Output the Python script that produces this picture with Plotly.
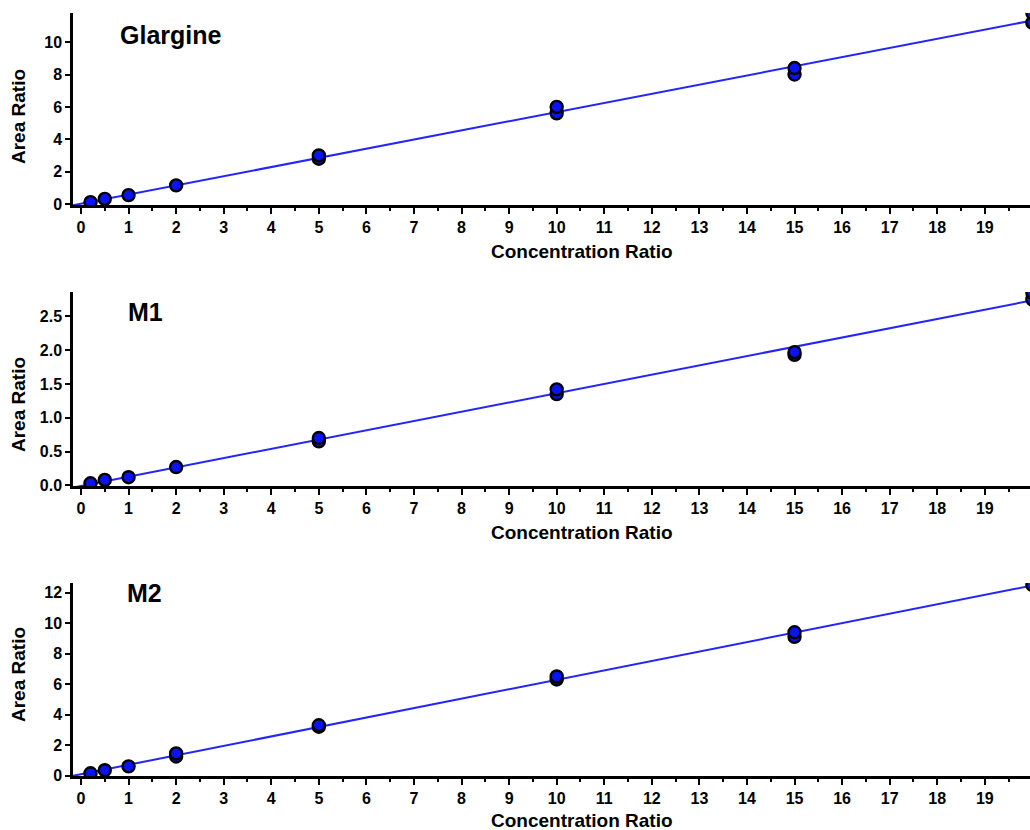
import numpy as np
import plotly.graph_objects as go

conc = [0.2, 0.5, 1, 2, 5, 5, 10, 10, 15, 15, 20, 20]

glargine = [0.12, 0.32, 0.55, 1.15, 2.8, 3.0, 5.6, 6.0, 8.0, 8.4, 11.2, 11.8]
m1 = [0.03, 0.08, 0.12, 0.27, 0.65, 0.70, 1.35, 1.42, 1.93, 1.97, 2.75, 2.85]
m2 = [0.15, 0.35, 0.6, 1.25, 1.45, 3.2, 3.3, 6.3, 6.5, 9.1, 9.4, 12.5]
m2_x = [0.2, 0.5, 1, 2, 2, 5, 5, 10, 10, 15, 15, 20]

panels = [
    ("Glargine", conc, glargine, [-0.06, 11.8], [0, 2, 4, 6, 8, 10], ["0", "2", "4", "6", "8", "10"]),
    ("M1", conc, m1, [-0.01, 2.86], [0, 0.5, 1.0, 1.5, 2.0, 2.5], ["0.0", "0.5", "1.0", "1.5", "2.0", "2.5"]),
    ("M2", m2_x, m2, [-0.03, 12.63], [0, 2, 4, 6, 8, 10, 12], ["0", "2", "4", "6", "8", "10", "12"]),
]

x_ticks = list(range(0, 20))
x_range = [-0.168, 19.95]
x_title = "Concentration Ratio"
y_title = "Area Ratio"

# pixel layout of each plot area and its texts
W, H = 1030, 830
px_rows = [(13, 205), (292, 486), (583, 776)]
label_pos = [(118, 35), (126, 312), (125, 593)]
xtitle_y = [251, 532, 820]
ytitle_y = [117, 405, 675]
x_left = 73

font_family = "Liberation Sans, Arial, sans-serif"
fig = go.Figure()

for i, (name, xs, ys, yr, yt, ytl) in enumerate(panels):
    k = "" if i == 0 else str(i + 1)
    xa, ya = "x" + k, "y" + k
    slope, intercept = np.polyfit(xs, ys, 1)
    lx = np.array([x_range[0], 20.5])
    fig.add_trace(go.Scatter(x=lx, y=slope * lx + intercept, mode="lines",
                             line=dict(color="#2424ff", width=2), xaxis=xa, yaxis=ya,
                             showlegend=False, hoverinfo="skip"))
    fig.add_trace(go.Scatter(x=xs, y=ys, mode="markers",
                             marker=dict(size=12, color="#0a14f0", line=dict(color="black", width=2.4)),
                             xaxis=xa, yaxis=ya, showlegend=False))
    top, bot = px_rows[i]
    dom_y = [1 - bot / H, 1 - top / H]
    axis_font = dict(family=font_family, size=16, color="black", weight="bold")
    title_font = dict(family=font_family, size=19, color="black", weight="bold")
    fig.layout["xaxis" + k] = dict(
        domain=[x_left / W, 1], range=x_range, anchor=ya, automargin=False,
        tickmode="array", tickvals=x_ticks, ticktext=[str(v) for v in x_ticks],
        ticks="outside", ticklen=6, tickwidth=2, tickcolor="black",
        minor=dict(tickmode="array", tickvals=[v + 0.5 for v in range(-1, 20)],
                   ticks="outside", ticklen=3, tickwidth=1.5, tickcolor="black"),
        showline=True, linecolor="black", linewidth=2.5, showgrid=False, zeroline=False,
        tickfont=axis_font,
    )
    fig.layout["yaxis" + k] = dict(
        domain=dom_y, range=yr, anchor=xa, automargin=False,
        tickmode="array", tickvals=yt, ticktext=ytl,
        ticks="outside", ticklen=5, tickwidth=2, tickcolor="black",
        showline=True, linecolor="black", linewidth=2.5, showgrid=False, zeroline=False,
        tickfont=axis_font,
    )
    lx_px, ly_px = label_pos[i]
    fig.add_annotation(text=name, xref="paper", yref="paper",
                       x=lx_px / W, y=1 - ly_px / H, xanchor="left", yanchor="middle",
                       showarrow=False,
                       font=dict(family=font_family, size=25, color="black", weight="bold"))
    fig.add_annotation(text=x_title, xref="paper", yref="paper",
                       x=582 / W, y=1 - xtitle_y[i] / H, xanchor="center", yanchor="middle",
                       showarrow=False, font=title_font)
    fig.add_annotation(text=y_title, xref="paper", yref="paper", textangle=-90,
                       x=18 / W, y=1 - ytitle_y[i] / H, xanchor="center", yanchor="middle",
                       showarrow=False, font=title_font)

fig.update_layout(width=W, height=H, margin=dict(l=0, r=0, t=0, b=0, autoexpand=False),
                  paper_bgcolor="white", plot_bgcolor="white")
fig.write_html("out.html", config={"displayModeBar": False},
               post_script="document.body.style.margin='0';document.body.style.overflow='hidden';")
